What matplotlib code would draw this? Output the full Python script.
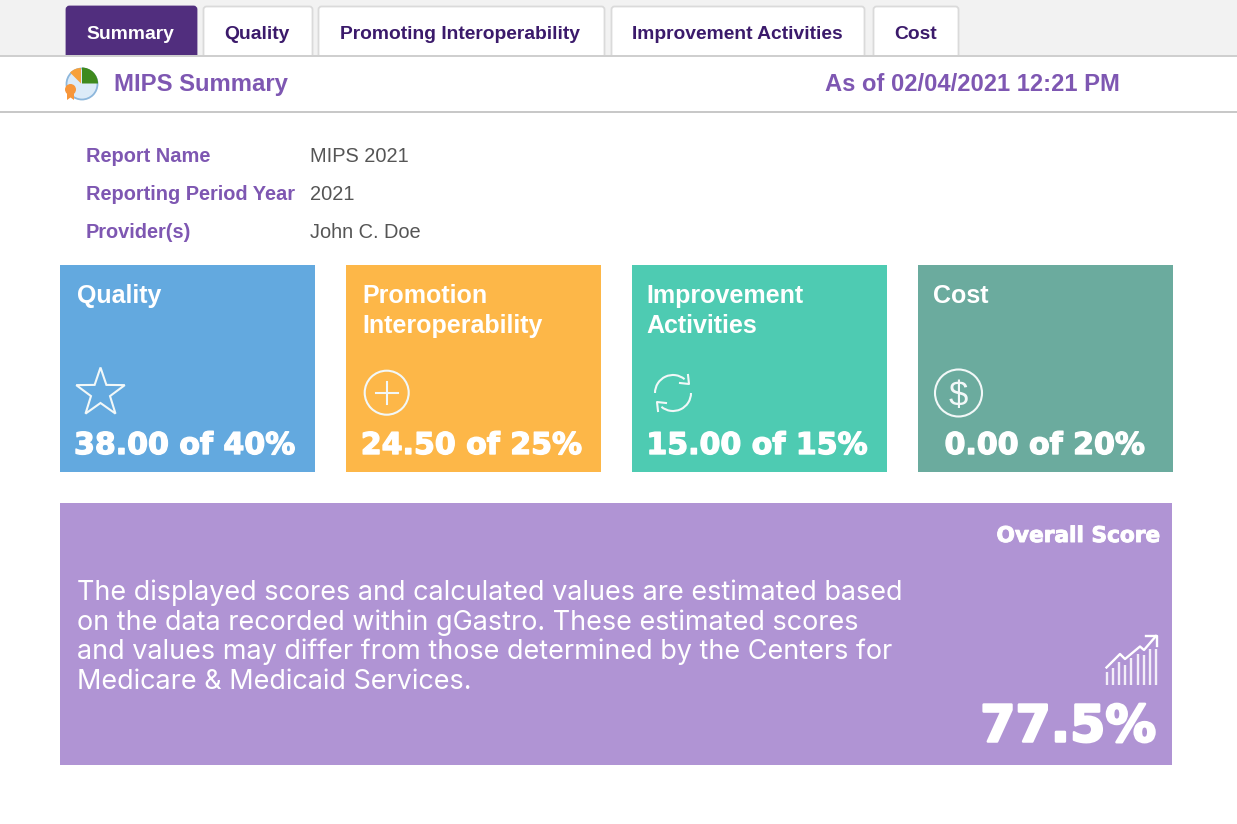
import numpy as np
import matplotlib
matplotlib.use("Agg")
import matplotlib.pyplot as plt
from matplotlib.patches import Rectangle, FancyBboxPatch, Circle, Wedge, Polygon, Arc
import matplotlib.patheffects as pe

W, H = 1237, 824
PURPLE = "#7E57B2"
DARK = "#3B1A6B"
ICONC = "#F2F8F8"
SANS = "Liberation Sans"
HEAVY = "DejaVu Sans"

tab_labels = ["Summary", "Quality", "Promoting Interoperability", "Improvement Activities", "Cost"]
tab_left = [66, 203, 318, 611, 873]
tab_right = [197, 313, 605, 865, 959]
tab_text_cx = [130, 256.5, 460.5, 737.5, 915.5]
info_labels = ["Report Name", "Reporting Period Year", "Provider(s)"]
info_values = ["MIPS 2021", "2021", "John C. Doe"]
card_titles = ["Quality", "Promotion\nInteroperability", "Improvement\nActivities", "Cost"]
card_scores = ["38.00 of 40%", "24.50 of 25%", "15.00 of 15%", "0.00 of 20%"]
card_colors = ["#63A9DF", "#FDB748", "#4ECBB2", "#6BAB9E"]
card_left = [60, 346, 632, 918]
card_title_x = [76.5, 362.5, 646, 933]
card_score_cx = [184.5, 471.5, 757, 1044.5]
note_lines = ["The displayed scores and calculated values are estimated based",
              "on the data recorded within gGastro. These estimated scores",
              "and values may differ from those determined by the Centers for",
              "Medicare & Medicaid Services."]
overall_score = "77.5%"
growth_bars = [13, 17, 23, 20, 27, 31, 30, 36, 36]
trend_x = [1106.5, 1120, 1125, 1140, 1144, 1156]
trend_y = [667.5, 654, 659, 646.5, 650, 636]

fig = plt.figure(figsize=(W / 100, H / 100), dpi=100, facecolor="white")
ax = fig.add_axes([0, 0, 1, 1])
ax.set_xlim(0, W)
ax.set_ylim(H, 0)
ax.axis("off")


def heavy(w):
    return [pe.withStroke(linewidth=w, foreground="white")]


# top bar
ax.add_patch(Rectangle((0, 0), W, 55, fc="#F2F2F2", ec="none", zorder=1))
ax.add_patch(Rectangle((0, 54.5), W, 2, fc="#CFCFCF", ec="none", zorder=2.5))
ax.add_patch(Rectangle((0, 111), W, 2, fc="#C8C8C8", ec="none", zorder=1))
for i, (label, l, r, tcx) in enumerate(zip(tab_labels, tab_left, tab_right, tab_text_cx)):
    active = i == 0
    tab = FancyBboxPatch((l + 0.5, 6.5), r - l - 1, 60, boxstyle="round,pad=0,rounding_size=3",
                         fc="#512E7E" if active else "white",
                         ec="#512E7E" if active else "#DADADA", lw=1.3, zorder=2)
    ax.add_patch(tab)
    tab.set_clip_path(Rectangle((0, 0), W, 55, transform=ax.transData))
    ax.text(tcx, 32, label, color="white" if active else DARK, fontsize=13.9,
            fontweight="bold", family=SANS, ha="center", va="center_baseline", zorder=3)

# report icon
cx, cy = 82, 84
ax.add_patch(Circle((cx, cy), 15.5, fc="#DCEBF8", ec="#8DB7DC", lw=1.3, zorder=2))
ax.add_patch(Wedge((cx, cy - 0.5), 16, 270, 360, fc="#3F8A1E", ec="none", zorder=3))
ax.add_patch(Wedge((cx - 1, cy - 0.5), 15.5, 225, 270, fc="#F7A13A", ec="none", zorder=3))
ax.add_patch(Circle((70.5, 89.5), 5.5, fc="#F7963A", ec="none", zorder=4))
ax.add_patch(Polygon([[67, 93], [74, 93], [74, 100], [70.5, 97.5], [67, 100]], fc="#F7963A", ec="none", zorder=4))

ax.text(114, 84.5, "MIPS Summary", color=PURPLE, fontsize=17.2, fontweight="bold", family=SANS, va="center", zorder=3)
ax.text(1120, 84.5, "As of 02/04/2021 12:21 PM", color=PURPLE, fontsize=17.1, fontweight="bold", family=SANS,
        va="center", ha="right", zorder=3)

# info rows
for label, val, y in zip(info_labels, info_values, [156, 194, 232]):
    ax.text(86, y, label, color=PURPLE, fontsize=14.4, fontweight="bold", family=SANS, va="center")
    ax.text(310, y, val, color="#555555", fontsize=14.4, family=SANS, va="center")

# cards
cw, ctop, ch = 254.5, 265, 207
for title, score, col, l, tx, scx in zip(card_titles, card_scores, card_colors, card_left, card_title_x, card_score_cx):
    ax.add_patch(Rectangle((l, ctop), cw, ch, fc=col, ec="none", zorder=1))
    ax.text(tx, 284, title, color="white", fontsize=18, fontweight="bold", family=SANS, va="top",
            linespacing=1.3, zorder=3)
    ax.text(scx, 442.5, score, color="white", fontsize=21.6, fontweight="bold", family=HEAVY, ha="center",
            va="center_baseline", path_effects=heavy(1.0), zorder=3)

LW = 1.5
# star
sx, sy = 100.5, 393
ang = np.deg2rad(np.arange(-90, 270, 36))
rad = np.where(np.arange(10) % 2 == 0, 25.5, 10)
ax.add_patch(Polygon(np.c_[sx + rad * np.cos(ang), sy + rad * np.sin(ang)], closed=True, joinstyle="miter",
                     fc="none", ec=ICONC, lw=LW, zorder=3))
# plus
ax.add_patch(Circle((386.7, 392.7), 22, fc="none", ec=ICONC, lw=LW, zorder=3))
ax.plot([376, 398], [392.7, 392.7], color=ICONC, lw=LW, zorder=3)
ax.plot([386.7, 386.7], [382, 404], color=ICONC, lw=LW, zorder=3)
# refresh
rx, ry = 673, 393
ax.add_patch(Arc((rx, ry), 36, 36, theta1=180, theta2=310, ec=ICONC, lw=LW, zorder=3))
ax.add_patch(Arc((rx, ry), 36, 36, theta1=0, theta2=130, ec=ICONC, lw=LW, zorder=3))
ax.plot([680, 689, 688], [383, 384, 375], color=ICONC, lw=LW, zorder=3)
ax.plot([666, 657, 658], [403, 402, 411], color=ICONC, lw=LW, zorder=3)
# dollar
ax.add_patch(Circle((958.5, 393), 23.5, fc="none", ec=ICONC, lw=LW, zorder=3))
ax.text(958.5, 393, "$", color=ICONC, fontsize=25, family=SANS, ha="center", va="center_baseline", zorder=3)

# overall panel
ax.add_patch(Rectangle((60, 503), 1112, 262, fc="#B094D4", ec="none", zorder=1))
ax.text(1160, 534, "Overall Score", color="white", fontsize=15.6, fontweight="bold", family=HEAVY, ha="right",
        va="center_baseline", path_effects=heavy(0.7), zorder=3)
for line, y in zip(note_lines, [590, 620, 649, 679]):
    ax.text(77, y, line, color="white", fontsize=19.45, family="Inter", va="center_baseline", zorder=3)
ax.text(1156, 722, overall_score, color="white", fontsize=36.5, fontweight="bold", family=HEAVY, ha="right",
        va="center_baseline", path_effects=heavy(1.8), zorder=3)

# growth icon
base = 685
bar_x = 1106.5 + np.arange(len(growth_bars)) * 6.2
ax.vlines(bar_x, base - np.array(growth_bars), base, color="white", lw=1.7, alpha=0.85, zorder=3)
ax.plot(trend_x, trend_y, color="white", lw=1.7, zorder=3)
ax.plot([1146, 1156.5, 1156.5], [636, 636, 646], color="white", lw=1.7, zorder=3)

fig.savefig("out.png", dpi=100, facecolor="white")
